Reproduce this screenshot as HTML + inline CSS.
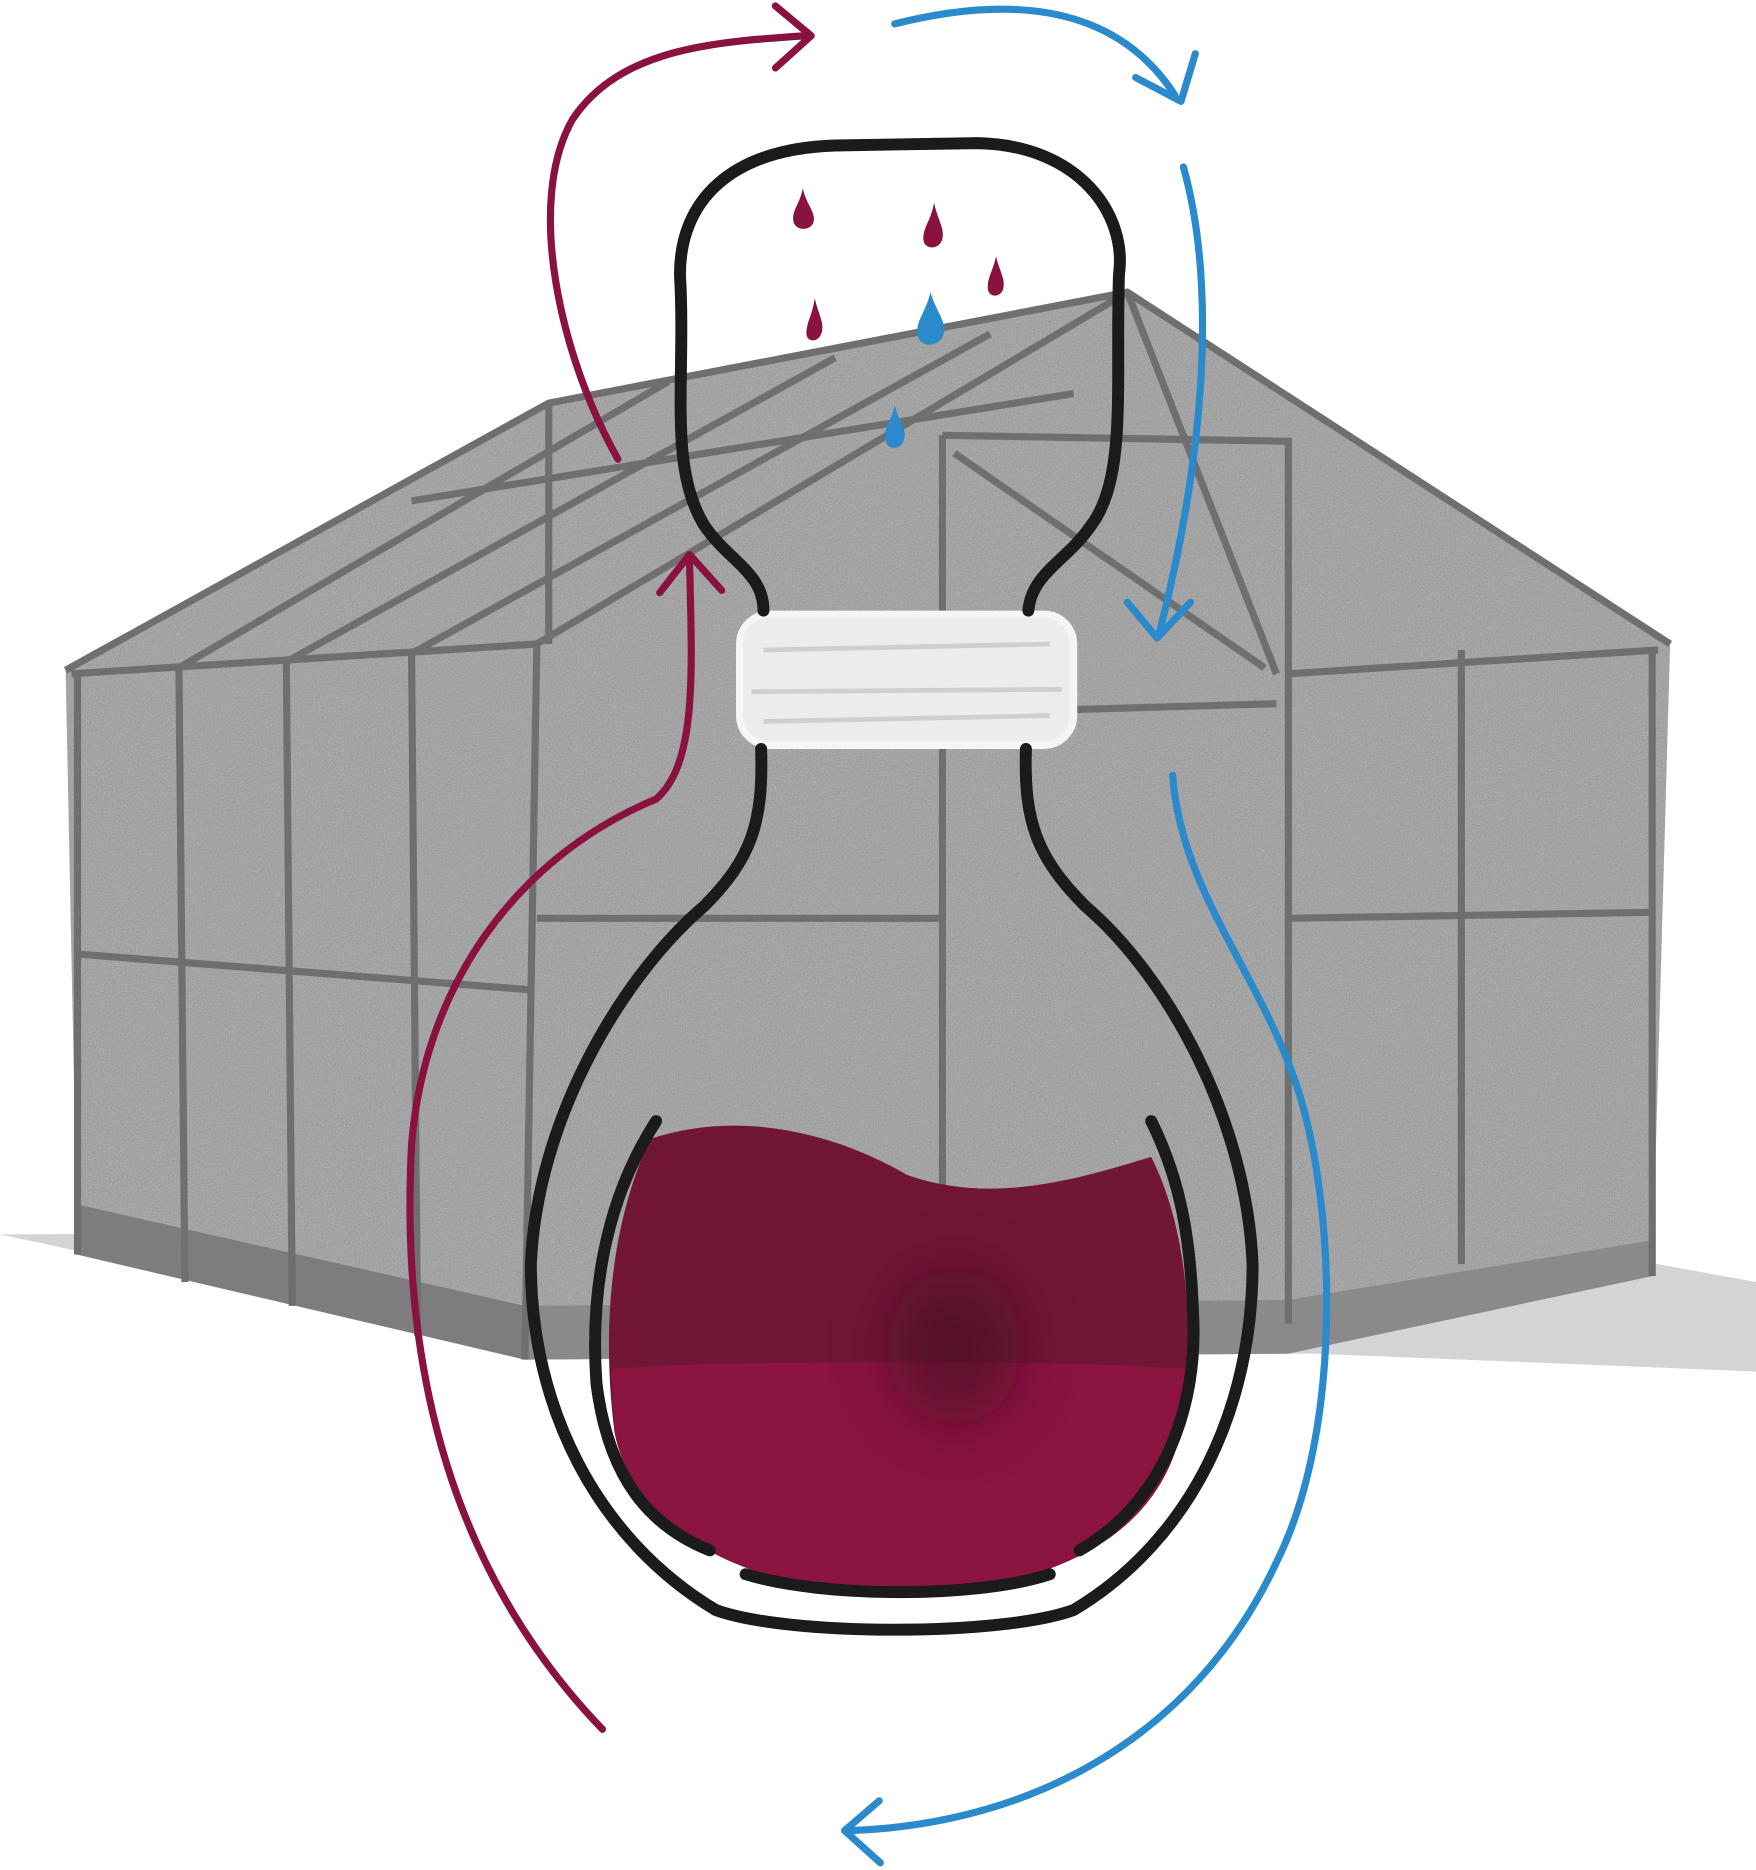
<!DOCTYPE html>
<html><head><meta charset="utf-8"><style>
html,body{margin:0;padding:0;background:#fff;}
svg{display:block;}
</style></head><body>
<svg width="1756" height="1870" viewBox="0 0 1472 1568" preserveAspectRatio="none" xmlns="http://www.w3.org/2000/svg">
<defs>
<filter id="n" x="0" y="0" width="100%" height="100%">
<feTurbulence type="fractalNoise" baseFrequency="0.9" numOctaves="1" result="t"/>
<feColorMatrix in="t" type="matrix" values="0 0 0 0 0  0 0 0 0 0  0 0 0 0 0  0 0 0 -1.2 1.1" result="a"/>
<feComposite in="SourceGraphic" in2="a" operator="in"/>
</filter>
<filter id="b" x="-150%" y="-150%" width="400%" height="400%"><feGaussianBlur stdDeviation="25"/></filter>
</defs>
<!-- ground shadow -->
<path d="M0 1035 L70 1050 L440 1140 L1100 1135 L1472 1150 L1472 1075 L1390 1060 L1080 1030 Z" fill="#d4d4d4"/>
<!-- greenhouse body -->
<path d="M55 562 L460 338 L945 245 L1400 540 L1385 1070 L1080 1135 L440 1140 L65 1052 Z" fill="#b4b4b4"/>
<path d="M55 562 L460 338 L945 245 L1400 540 L1385 1070 L1080 1135 L440 1140 L65 1052 Z" fill="#555" filter="url(#n)" opacity="0.35"/>
<path d="M65 1010 L440 1095 L440 1140 L65 1052 Z" fill="#7d7d7d"/>
<path d="M440 1095 L1080 1090 L1385 1040 L1385 1070 L1080 1135 L440 1140 Z" fill="#8a8a8a"/>
<g stroke="#6f6f6f" stroke-width="6" fill="none">
<path d="M55 562 L460 338 L945 245 L1400 540"/>
<path d="M60 565 L450 540 L945 245"/>
<path d="M450 540 L440 1140"/>
<path d="M65 565 L65 1052"/>
<path d="M150 560 L155 1075"/>
<path d="M240 555 L245 1095"/>
<path d="M345 548 L350 1120"/>
<path d="M65 800 L445 830"/>
<path d="M460 338 L460 540"/>
<path d="M150 560 L560 320"/>
<path d="M240 555 L700 300"/>
<path d="M345 548 L830 280"/>
<path d="M345 420 L900 330"/>
<path d="M790 365 L1080 370 L1080 1110"/>
<path d="M790 365 L790 1090"/>
<path d="M945 245 L1070 565"/>
<path d="M800 380 L1060 560"/>
<path d="M1225 545 L1225 1060"/>
<path d="M1385 545 L1385 1070"/>
<path d="M1080 565 L1390 545"/>
<path d="M1080 770 L1385 765"/>
<path d="M900 595 L1070 590"/>
<path d="M450 770 L790 770"/>
</g>
<!-- liquid -->
<path d="M545 955 C620 930 700 950 760 985 C830 1010 900 990 965 970 C1000 1040 1000 1130 990 1200 C970 1290 880 1335 750 1335 C620 1335 530 1280 515 1200 C505 1120 510 1030 545 955 Z" fill="#721636"/>
<path d="M513 1148 C600 1140 900 1140 996 1148 L990 1200 C970 1290 880 1335 750 1335 C620 1335 530 1280 515 1200 Z" fill="#8b1441"/>
<ellipse cx="800" cy="1130" rx="55" ry="65" fill="#3a0a1c" opacity="0.55" filter="url(#b)"/>
<!-- neck band -->
<rect x="620" y="515" width="280" height="110" rx="25" fill="#ececec" stroke="#f5f5f5" stroke-width="6"/>
<g stroke="#cfcfcf" stroke-width="4" fill="none"><path d="M640 545 L880 540"/><path d="M630 580 L890 578"/><path d="M640 605 L880 600"/></g>
<!-- flask outline -->
<g stroke="#1b1b1b" stroke-width="10" fill="none" stroke-linecap="round" stroke-linejoin="round">
<path d="M640 512 C640 480 610 470 590 440 C560 390 575 320 570 230 C570 170 610 125 700 122 L820 120 C905 122 945 180 938 230 C935 320 945 400 915 440 C895 470 865 480 862 512"/>
<path d="M638 628 C640 690 630 720 590 760 C520 820 450 940 445 1060 C445 1180 500 1290 600 1350 C660 1372 840 1372 900 1350 C1000 1290 1050 1180 1050 1060 C1045 940 980 820 910 760 C870 720 858 690 860 628"/>
<path d="M550 940 C505 1010 495 1090 500 1160 C510 1240 545 1280 595 1300"/>
<path d="M625 1320 C690 1340 820 1340 880 1320"/>
<path d="M905 1300 C975 1260 1005 1180 1000 1100 C998 1040 990 990 965 940"/>
</g>
<!-- crimson arrows -->
<g stroke="#8a1240" stroke-width="6" fill="none" stroke-linecap="round" stroke-linejoin="round">
<path d="M518 385 C470 300 440 170 480 100 C520 40 600 35 675 30"/>
<path d="M650 5 L680 30 L650 57"/>
<path d="M505 1450 C380 1320 335 1150 345 960 C355 830 430 720 550 670 C585 640 580 560 578 470"/>
<path d="M553 497 L578 465 L605 495"/>
</g>
<!-- blue arrows -->
<g stroke="#2a8acb" stroke-width="6" fill="none" stroke-linecap="round" stroke-linejoin="round">
<path d="M750 20 C830 0 930 -5 985 80"/>
<path d="M952 65 L990 85 L1002 45"/>
<path d="M992 140 C1020 240 1010 380 972 530"/>
<path d="M945 505 L970 535 L998 505"/>
<path d="M983 650 C990 750 1060 820 1090 920 C1120 1020 1125 1200 1070 1310 C1000 1460 860 1530 712 1535"/>
<path d="M737 1510 L708 1535 L738 1562"/>
</g>
<!-- drops -->
<g fill="#8a1240">
<path d="M673 158 C676 172 684 178 682 186 C680 194 666 194 665 185 C664 176 670 172 673 158Z"/>
<path d="M783 170 C786 184 792 192 790 200 C788 210 774 210 774 200 C774 190 780 186 783 170Z"/>
<path d="M835 215 C838 228 843 234 841 242 C839 250 828 250 828 241 C828 232 832 228 835 215Z"/>
<path d="M683 250 C686 264 691 270 689 278 C687 288 675 288 676 278 C677 268 681 264 683 250Z"/>
</g>
<g fill="#2a8acb">
<path d="M780 245 C785 262 794 270 791 280 C788 292 770 292 769 280 C768 268 776 262 780 245Z"/>
<path d="M750 340 C754 354 760 360 758 368 C756 378 743 378 742 368 C741 358 747 354 750 340Z"/>
</g>
</svg>
</body></html>
